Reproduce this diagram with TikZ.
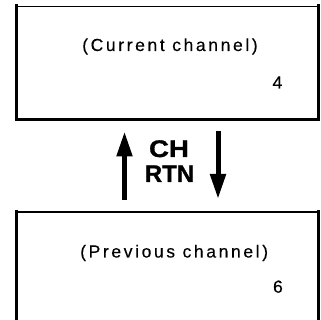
\documentclass[tikz,border=0pt]{standalone}
\usepackage{fontspec}
\usepackage{graphicx}
\setmainfont{Liberation Sans}
\newfontfamily\spacedfont[LetterSpace=15,FakeBold=0.3]{Liberation Sans}
\newfontfamily\keyfont[FakeBold=1.2]{Liberation Sans Bold}
\usetikzlibrary{arrows.meta}
\tikzset{
  boxtext/.style={inner sep=0pt, font=\spacedfont\fontsize{17.5}{20}\selectfont},
  numtext/.style={inner sep=0pt, font=\spacedfont\fontsize{17.5}{20}\selectfont},
  keytext/.style={inner sep=0pt, font=\keyfont\fontsize{24}{24.5}\selectfont, align=center},
  screenbox/.style={draw=black, line width=1.2pt, inner sep=0pt},
  thickside/.style={line width=3pt, line cap=rect},
  keyarrow/.style={line width=5pt, -{Triangle[length=25pt,width=15pt]}}
}
\begin{document}
\begin{tikzpicture}[x=1pt,y=-1pt]
\useasboundingbox (0,0) rectangle (321,320);
\clip (0,0) rectangle (321,320);
% top box
\node[screenbox, minimum width=301.3pt, minimum height=113.1pt] (top) at (167.35,62.75) {};
\draw[thickside] (top.north west) -- (top.south west) -- (top.south east) -- (top.north east);
\node[boxtext, anchor=base west] (curtxt) at (82,51) {(Current channel)};
\node[numtext, anchor=base east] (curnum) at (282.5,88.5) {4};
% bottom box
\node[screenbox, minimum width=301.3pt, minimum height=140pt] (bot) at (167.35,282) {};
\draw[thickside] (bot.south west) -- (bot.north west);
\draw[thickside] (bot.south east) -- (bot.north east);
\node[boxtext, anchor=base west] (prevtxt) at (80,257.5) {(Previous channel)};
\node[numtext, anchor=base east] (prevnum) at (283,292.7) {6};
% key label
\node[keytext, anchor=base] (ch) at (169,157) {\scalebox{1.15}[1]{CH}};
\node[keytext, anchor=base] (rtn) at (169.5,182) {RTN};
% arrows
\coordinate (upS) at (124.5,200);
\coordinate (upE) at (124.5,131.5);
\coordinate (dnS) at (218,131);
\coordinate (dnE) at (218,199);
\draw[keyarrow] (upS) -- (upE);
\draw[keyarrow] (dnS) -- (dnE);
\end{tikzpicture}
\end{document}
